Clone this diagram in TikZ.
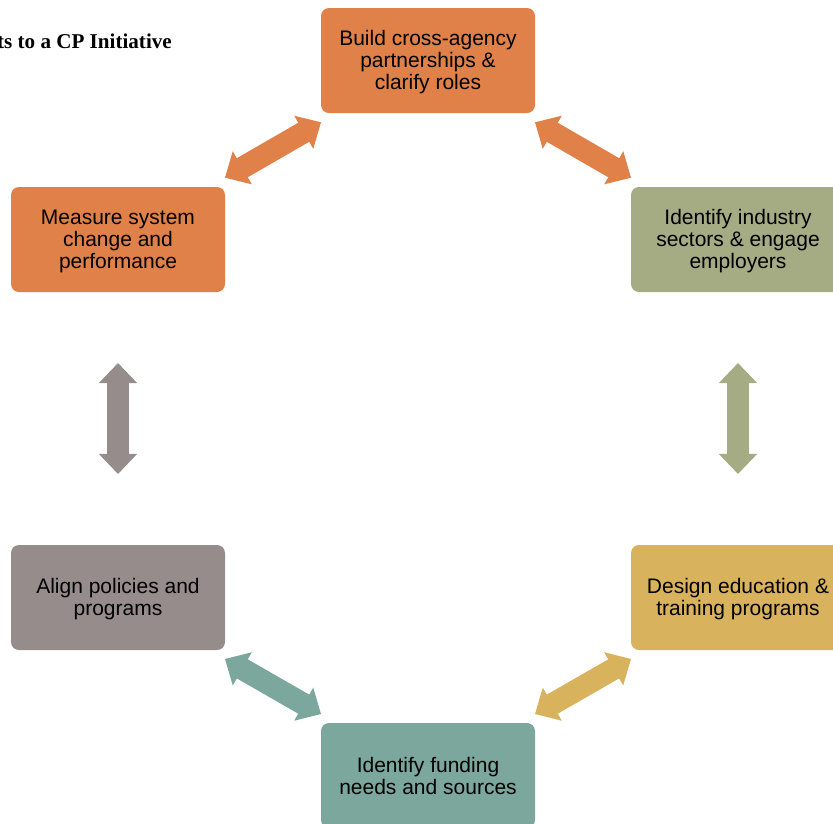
\documentclass[tikz,border=0pt]{standalone}
\usepackage{fontspec}
\setmainfont{Liberation Sans}
\newfontfamily\titlefont{Liberation Serif}
\usetikzlibrary{arrows.meta,calc}
\definecolor{cporange}{RGB}{223,129,73}
\definecolor{cpolive}{RGB}{165,171,130}
\definecolor{cpgold}{RGB}{216,178,92}
\definecolor{cpteal}{RGB}{123,167,157}
\definecolor{cptaupe}{RGB}{150,140,140}
\newcommand{\topstrut}{\rule{0pt}{18.6pt}}
\newcommand{\botstrut}{\rule[-3.4pt]{0pt}{3.4pt}}

\begin{document}
\begin{tikzpicture}[x=1pt, y=-1pt,
    stepbox/.style={rounded corners=8pt, minimum width=214pt, minimum height=105pt,
        inner sep=0pt, align=center, font=\fontsize{21}{22}\selectfont},
    cyclearrow/.style={line width=22pt,
        {Triangle[length=20pt,width=37pt]}-{Triangle[length=20pt,width=37pt]}}]
    \useasboundingbox (0,0) rectangle (833,823);
    \clip (0,0) rectangle (833,823);

    % Title
    \node[font=\titlefont\bfseries\fontsize{21.1}{24}\selectfont, anchor=base east, inner sep=0pt]
        (title) at (172,48.5) {ts to a CP Initiative};

    % Cycle steps
    \foreach \name/\pos/\col/\txt in {
        top/{(428,60.5)}/cporange/{Build cross-agency\\partnerships \&\\clarify roles},
        rt/{(738,239.5)}/cpolive/{Identify industry\\sectors \& engage\\employers},
        rb/{(738,597.5)}/cpgold/{Design education \&\\training programs},
        bot/{(428,775.5)}/cpteal/{Identify funding\\needs and sources},
        lb/{(118,597.5)}/cptaupe/{Align policies and\\programs},
        lt/{(118,239.5)}/cporange/{Measure system\\change and\\performance}%
    } {
        \node[stepbox, fill=\col] (\name) at \pos {\topstrut\txt\botstrut};
    }

    % Double arrows between steps
    \foreach \a/\b/\col in {top/rt/cporange, rt/rb/cpolive, rb/bot/cpgold,
        bot/lb/cpteal, lb/lt/cptaupe, lt/top/cporange} {
        \draw[cyclearrow, \col] ($(\a)!0.345!(\b)$) -- ($(\a)!0.655!(\b)$);
    }
\end{tikzpicture}
\end{document}
